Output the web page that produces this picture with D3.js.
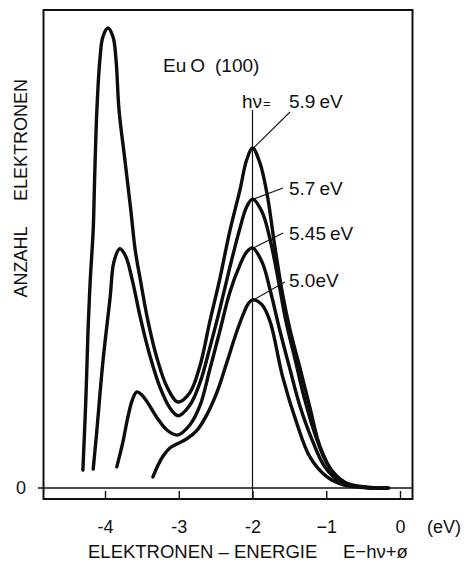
<!DOCTYPE html>
<html><head><meta charset="utf-8">
<script src="https://cdn.jsdelivr.net/npm/d3@7"></script>
<style>
html,body{margin:0;padding:0;background:#fff;}
text{font-family:"Liberation Sans",Arial,sans-serif;fill:#111;}
</style></head>
<body>
<svg id="chart" width="464" height="564"></svg>
<script>
// ---- data (x: electron energy E-hv+phi in eV, y: electron count, arbitrary units) ----
const photonEnergies = ["5.9eV", "5.7eV", "5.45eV", "5.0eV"];
const curve59 = [[-4.30,3.9],[-4.26,19.1],[-4.23,34.3],[-4.20,45.2],[-4.16,56.1],[-4.14,67.6],[-4.11,82.2],[-4.07,93.0],[-4.03,98.0],[-3.96,100],[-3.89,98.0],[-3.85,93.0],[-3.81,82.2],[-3.73,71.3],[-3.65,60.4],[-3.59,51.7],[-3.52,45.2],[-3.42,36.5],[-3.30,28.5],[-3.16,22.0],[-3.01,18.7],[-2.85,20.7],[-2.71,26.7],[-2.58,36.1],[-2.44,45.7],[-2.31,55.7],[-2.17,64.8],[-2.08,71.3],[-2.00,73.9],[-1.90,70.7],[-1.80,63.7],[-1.70,52.8],[-1.59,42.0],[-1.49,34.3],[-1.36,26.3],[-1.22,17.4],[-1.09,9.3],[-0.91,3.5],[-0.68,0.7],[-0.18,0]];
const curve57 = [[-4.16,4.1],[-4.11,12.6],[-4.03,27.2],[-3.93,41.5],[-3.88,49.1],[-3.80,52.0],[-3.72,50.4],[-3.63,45.2],[-3.52,37.0],[-3.39,28.7],[-3.25,21.7],[-3.12,17.4],[-3.01,15.7],[-2.85,18.0],[-2.71,23.0],[-2.58,30.4],[-2.44,39.1],[-2.31,47.8],[-2.17,56.5],[-2.08,61.1],[-2.00,62.8],[-1.87,60.0],[-1.76,53.9],[-1.65,45.2],[-1.55,36.5],[-1.42,27.8],[-1.29,19.1],[-1.14,11.1],[-0.98,5.0],[-0.77,1.3],[-0.30,0],[-0.18,0]];
const curve545 = [[-3.84,4.6],[-3.76,9.8],[-3.69,15.4],[-3.63,19.1],[-3.57,20.9],[-3.50,20.2],[-3.42,18.5],[-3.30,15.4],[-3.16,12.6],[-3.02,11.5],[-2.85,13.7],[-2.71,18.0],[-2.58,25.7],[-2.44,34.3],[-2.31,42.4],[-2.17,48.5],[-2.08,51.3],[-2.00,52.2],[-1.87,49.1],[-1.76,43.0],[-1.63,34.3],[-1.49,25.7],[-1.36,18.0],[-1.19,10.4],[-1.02,4.6],[-0.81,1.3],[-0.40,0],[-0.18,0]];
const curve50 = [[-3.35,2.4],[-3.28,5.0],[-3.21,7.0],[-3.12,8.7],[-3.02,9.6],[-2.89,10.7],[-2.75,12.6],[-2.62,15.9],[-2.48,20.9],[-2.35,27.2],[-2.22,33.7],[-2.13,37.6],[-2.06,40.0],[-2.00,40.9],[-1.87,39.8],[-1.76,36.1],[-1.59,24.1],[-1.40,14.1],[-1.22,6.7],[-0.99,2.4],[-0.77,0.7],[-0.40,0],[-0.15,0]];
const seriesData = [curve59, curve57, curve545, curve50];
const tickValues = [-4, -3, -2, -1, 0];
const tickLabels = ["-4", "-3", "-2", "\u22121", "0"];

// ---- layout ----
const svg = d3.select("#chart");
const x = d3.scaleLinear().domain([-4, 0]).range([105, 400]);
const y = d3.scaleLinear().domain([0, 100]).range([488, 28]);
const frame = {left: 43.5, right: 412.5, top: 10, bottom: 499};

// frame
svg.append("rect").attr("x", frame.left).attr("y", frame.top)
  .attr("width", frame.right - frame.left).attr("height", frame.bottom - frame.top)
  .attr("fill", "none").attr("stroke", "#111").attr("stroke-width", 2);
// zero baseline
svg.append("line").attr("x1", 38).attr("x2", frame.right).attr("y1", y(0)).attr("y2", y(0))
  .attr("stroke", "#111").attr("stroke-width", 1.6);
// reference line at -2 eV
svg.append("line").attr("x1", x(-2)).attr("x2", x(-2)).attr("y1", 110).attr("y2", frame.bottom)
  .attr("stroke", "#111").attr("stroke-width", 1.2);

// x axis ticks (inward) with labels
const axis = d3.axisBottom(x).tickValues(tickValues)
  .tickFormat((d, i) => tickLabels[i]).tickSizeInner(-8).tickSizeOuter(0).tickPadding(21);
const gx = svg.append("g").attr("transform", `translate(0,${frame.bottom})`).call(axis);
gx.select(".domain").remove();
gx.selectAll(".tick line").attr("stroke", "#111").attr("stroke-width", 1.4);
gx.selectAll(".tick text").attr("font-size", 18).attr("fill", "#111")
  .attr("font-family", "'Liberation Sans', Arial, sans-serif");

// curves
const line = d3.line().x(d => x(d[0])).y(d => y(d[1])).curve(d3.curveCatmullRom.alpha(0.5));
svg.selectAll("path.curve").data(seriesData).enter().append("path")
  .attr("class", "curve").attr("d", line)
  .attr("fill", "none").attr("stroke", "#0d0d0d").attr("stroke-width", 3.4)
  .attr("stroke-linecap", "round").attr("stroke-linejoin", "round");

// series labels with leader lines
const labelPos = [[289, 108], [289, 195], [289, 240], [289, 287]];
const leaderStart = [[290, 112], [283, 188], [283, 233], [285, 282]];
seriesData.forEach((s, i) => {
  const peak = s.reduce((a, b) => (Math.abs(b[0] + 2) < Math.abs(a[0] + 2) ? b : a));
  svg.append("line").attr("x1", leaderStart[i][0]).attr("y1", leaderStart[i][1])
    .attr("x2", x(peak[0]) + 1).attr("y2", y(peak[1]))
    .attr("stroke", "#111").attr("stroke-width", 1.1);
  const t = svg.append("text").attr("x", labelPos[i][0]).attr("y", labelPos[i][1]).attr("font-size", 19);
  const m = photonEnergies[i].match(/^([\d.]+)(eV)$/);
  t.append("tspan").text(m[1]);
  t.append("tspan").attr("dx", i === 3 ? 0 : 4).text(m[2]);
});
const hv = svg.append("text").attr("x", 242).attr("y", 108).attr("font-size", 19);
hv.append("tspan").text("h\u03BD");
hv.append("tspan").attr("font-size", 13).attr("dx", 1).text("=");

// title
const title = svg.append("text").attr("x", 163).attr("y", 72).attr("font-size", 19);
title.append("tspan").text("Eu");
title.append("tspan").attr("dx", 4).text("O");
title.append("tspan").attr("dx", 10).text("(100)");

// axis extras
svg.append("text").attr("x", 21).attr("y", 494).attr("text-anchor", "middle").attr("font-size", 18).text("0");
svg.append("text").attr("x", 427).attr("y", 533).attr("font-size", 18).text("(eV)");
const xl = svg.append("text").attr("x", 88).attr("y", 558).attr("font-size", 18.5);
xl.append("tspan").text("ELEKTRONEN \u2013 ENERGIE");
xl.append("tspan").attr("x", 343).text("E\u2212h\u03BD+\u00F8");

// y label
svg.append("text").attr("transform", "translate(27,262) rotate(-90)").attr("text-anchor", "middle")
  .attr("font-size", 18).text("ANZAHL");
svg.append("text").attr("transform", "translate(27,140) rotate(-90)").attr("text-anchor", "middle")
  .attr("font-size", 18).text("ELEKTRONEN");
</script>
</body></html>
